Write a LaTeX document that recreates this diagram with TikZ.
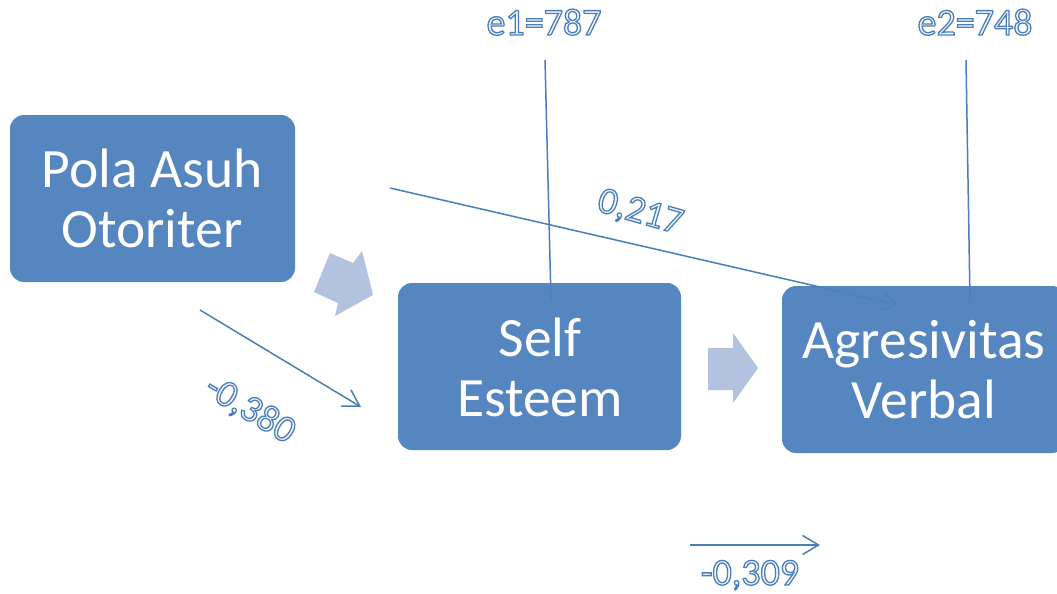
\documentclass[tikz,border=0pt]{standalone}
\usepackage{fontspec}
\setmainfont{Carlito}
\usetikzlibrary{arrows.meta}
\definecolor{boxblue}{HTML}{4F81BD}
\definecolor{lineblue}{HTML}{4A7EBB}
\definecolor{blockblue}{HTML}{B3C2DE}
\tikzset{
  varbox/.style={fill=boxblue, fill opacity=0.96, rounded corners=14pt, draw=none},
  boxtext/.style={text=white, align=center, font=\fontsize{55.5}{60}\selectfont, inner sep=0pt},
  path/.style={draw=lineblue, line width=1.5pt},
  patharrow/.style={path, -{Straight Barb[length=16pt,width=19pt,line width=1.5pt]}},
  lbl/.style={font=\fontsize{38}{42}\selectfont, inner sep=0pt, anchor=base, text=lineblue},
  blockarrow/.style={fill=blockblue, draw=none}
}
\newcommand{\olt}[1]{\special{pdf:literal direct 2 Tr 1.3 w 0.957 0.969 0.988 rg}#1\special{pdf:literal direct 0 Tr}}
\begin{document}
\begin{tikzpicture}[x=1pt,y=-1pt]
\useasboundingbox (0,0) rectangle (1057,594);
% connectors behind boxes
\coordinate (p1s) at (390,188);
\coordinate (p1e) at (898,305);
\coordinate (p2s) at (200,310);
\coordinate (p2e) at (361,407);
\coordinate (p3s) at (690,545);
\coordinate (p3e) at (820,545);
\coordinate (e1s) at (545,60);
\coordinate (e1e) at (551,300);
\coordinate (e2s) at (966,60);
\coordinate (e2e) at (970,300);
\draw[patharrow] (p1s) -- (p1e);
\draw[patharrow] (p2s) -- (p2e);
\draw[patharrow] (p3s) -- (p3e);
\draw[path] (e1s) -- (e1e);
\draw[path] (e2s) -- (e2e);
% boxes
\fill[varbox] (10,115) rectangle (295,282);
\node[boxtext] (pola) at (152,198) {Pola Asuh\\Otoriter};
\fill[varbox] (398,283) rectangle (681,450);
\node[boxtext] (self) at (540,367) {Self\\Esteem};
\fill[varbox] (782,286) rectangle (1066,453);
\node[boxtext] (agr) at (924,370) {Agresivitas\\Verbal};
% block arrows
\fill[blockarrow] (330,253) -- (353,263) -- (362,251) -- (373,295) -- (335,316) -- (338,303) -- (314,292) -- cycle;
\fill[blockarrow] (708,348) -- (733,348) -- (733,333) -- (758,368) -- (733,403) -- (733,390) -- (708,390) -- cycle;
% labels
\node[lbl] (le1) at (544,35) {\olt{e1=787}};
\node[lbl] (le2) at (975,35) {\olt{e2=748}};
\node[lbl] (l309) at (750,585) {\olt{-0,309}};
\node[lbl, anchor=center, rotate=-16] (l217) at (640,213) {\olt{0,217}};
\node[lbl, anchor=center, rotate=-31] (l380) at (250,410) {\olt{-0,380}};
\end{tikzpicture}
\end{document}
